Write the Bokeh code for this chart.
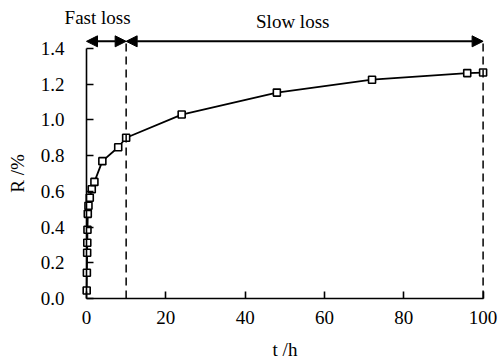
from bokeh.plotting import figure
from bokeh.models import Arrow, NormalHead, FixedTicker, Range1d, Label, NumeralTickFormatter, ColumnDataSource
from bokeh.embed import file_html
from bokeh.resources import INLINE

# ---- data ----
t_h = [0.05, 0.1, 0.17, 0.2, 0.25, 0.33, 0.5, 0.83, 1.33, 2, 4, 8, 10, 24, 48, 72, 96, 100]
r_pct = [0.045, 0.144, 0.256, 0.312, 0.385, 0.474, 0.519, 0.564, 0.612, 0.653,
         0.769, 0.847, 0.900, 1.030, 1.153, 1.225, 1.262, 1.265]
x_ticks = [0, 20, 40, 60, 80, 100]
y_ticks = [0.0, 0.2, 0.4, 0.6, 0.8, 1.0, 1.2, 1.4]
phase_bounds = [0, 10, 100]
phase_names = ["Fast loss", "Slow loss"]
arrow_level = 1.44

FONT = "Times New Roman"
FS = "19px"

p = figure(width=501, height=360,
           x_range=Range1d(-21.68, 104.64), y_range=Range1d(-0.347, 1.6685),
           output_backend="svg", toolbar_location=None,
           min_border_left=0, min_border_right=0, min_border_top=0, min_border_bottom=0)
p.grid.visible = False
p.outline_line_color = None

src = ColumnDataSource(dict(t=t_h, r=r_pct))
p.line("t", "r", source=src, line_color="black", line_width=1.8)
p.scatter("t", "r", source=src, marker="square", size=7, fill_color="white",
          line_color="black", line_width=1.6)

# dashed phase boundaries
p.segment(x0=phase_bounds[1:], y0=[0, 0], x1=phase_bounds[1:], y1=[arrow_level, arrow_level],
          line_color="black", line_width=1.5, line_dash="8 5")

# double arrows
for a, b in zip(phase_bounds[:-1], phase_bounds[1:]):
    p.add_layout(Arrow(start=NormalHead(size=11, fill_color="black", line_color="black"),
                       end=NormalHead(size=11, fill_color="black", line_color="black"),
                       x_start=a, y_start=arrow_level, x_end=b, y_end=arrow_level,
                       line_color="black", line_width=2))

p.add_layout(Label(x=2.8, y=1.517, text=phase_names[0], text_align="center",
                   text_font=FONT, text_font_size=FS, text_color="black"))
p.add_layout(Label(x=52, y=1.492, text=phase_names[1], text_align="center",
                   text_font=FONT, text_font_size=FS, text_color="black"))

xa = p.xaxis[0]
xa.ticker = FixedTicker(ticks=x_ticks)
xa.bounds = (0, 100)
xa.fixed_location = 0
xa.axis_label = "t /h"
xa.axis_label_standoff = 12
xa.major_label_standoff = 12

ya = p.yaxis[0]
ya.ticker = FixedTicker(ticks=y_ticks)
ya.bounds = (0, 1.4)
ya.fixed_location = 0
ya.formatter = NumeralTickFormatter(format="0.0")
ya.axis_label = "R /%"
ya.axis_label_standoff = 10
ya.major_label_standoff = 22

for ax in (xa, ya):
    ax.major_tick_in = 7
    ax.major_tick_out = 0
    ax.minor_tick_in = 0
    ax.minor_tick_out = 0
    ax.axis_line_width = 1.6
    ax.major_tick_line_width = 1.6
    ax.axis_line_color = "black"
    ax.major_tick_line_color = "black"
    ax.major_label_text_font = FONT
    ax.major_label_text_font_size = FS
    ax.major_label_text_color = "black"
    ax.axis_label_text_font = FONT
    ax.axis_label_text_font_size = FS
    ax.axis_label_text_font_style = "normal"
    ax.axis_label_text_color = "black"

open("out.html", "w").write(file_html(p, INLINE))
